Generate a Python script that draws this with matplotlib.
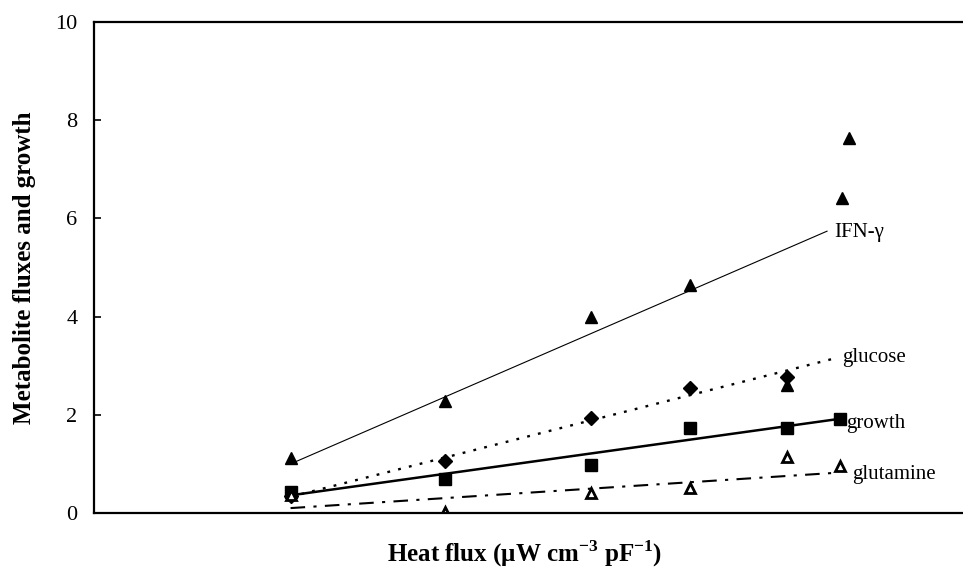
import numpy as np
import matplotlib
matplotlib.use("Agg")
import matplotlib.pyplot as plt

plt.rcParams['font.family'] = ['Liberation Serif', 'DejaVu Serif']
plt.rcParams['mathtext.fontset'] = 'custom'
plt.rcParams['mathtext.rm'] = 'Liberation Serif'
plt.rcParams['mathtext.bf'] = 'Liberation Serif:bold'

# heat flux (position along the x axis, the original has no x tick labels)
heat = [2.03, 3.63, 5.13, 6.15, 7.16, 7.70]
heat_ifn = [2.03, 3.63, 5.13, 6.15, 7.16, 7.72, 7.80]

# measured values
ifn = [1.12, 2.28, 3.99, 4.64, 2.61, 6.42, 7.64]
glucose = [0.35, 1.06, 1.93, 2.55, 2.77]
growth = [0.43, 0.69, 0.98, 1.73, 1.73, 1.91]
glutamine = [0.36, 0.02, 0.40, 0.51, 1.14, 0.96]

# fitted lines (start, end)
fit_x = [2.03, 7.67]
ifn_fit_x = [2.03, 7.57]
ifn_fit = [1.0, 5.74]
glucose_fit = [0.33, 3.16]
growth_fit = [0.36, 1.91]
glutamine_fit = [0.10, 0.82]

fig = plt.figure(figsize=(9.63, 5.73), dpi=100)
ax = fig.add_axes([0.0976, 0.1047, 0.905, 0.8569])

ax.plot(ifn_fit_x, ifn_fit, color='black', lw=0.8)
ax.plot(fit_x, glucose_fit, color='black', lw=1.7, linestyle=(0, (1.2, 3.5)))
ax.plot(fit_x, growth_fit, color='black', lw=1.8)
ax.plot(fit_x, glutamine_fit, color='black', lw=1.5, linestyle=(0, (7, 4, 1.5, 4)))

ax.plot(heat_ifn, ifn, '^', color='black', ms=9, ls='none')
ax.plot(heat[:5], glucose, 'D', color='black', ms=7, ls='none')
ax.plot(heat, growth, 's', color='black', ms=8, ls='none')
ax.plot(heat, glutamine, '^', mfc='white', mec='black', mew=2, ms=7, ls='none')

ax.text(7.64, 5.72, 'IFN-\u03b3', fontsize=15, va='center', ha='left')
ax.text(7.73, 3.16, 'glucose', fontsize=15, va='center', ha='left')
ax.text(7.77, 1.83, 'growth', fontsize=15, va='center', ha='left')
ax.text(7.83, 0.79, 'glutamine', fontsize=15, va='center', ha='left')

ax.set_xlim(0, 9)
ax.set_ylim(0, 10)
ax.set_yticks([0, 2, 4, 6, 8, 10])
ax.set_xticks([])
ax.tick_params(axis='y', direction='in', length=5, width=1.2, labelsize=16, pad=12)

ax.spines['right'].set_visible(False)
for s in ['left', 'top', 'bottom']:
    ax.spines[s].set_linewidth(1.6)

ax.set_ylabel('Metabolite fluxes and growth', fontsize=18, fontweight='bold')
ax.yaxis.set_label_coords(-0.066, 0.5)
ax.set_xlabel(r'Heat flux ($\mathbf{\mu}$W cm$^{\mathbf{-3}}$ pF$^{\mathbf{-1}}$)',
              fontsize=18, fontweight='bold')
ax.xaxis.set_label_coords(0.4945, -0.052)

fig.savefig('out.png', dpi=100)
